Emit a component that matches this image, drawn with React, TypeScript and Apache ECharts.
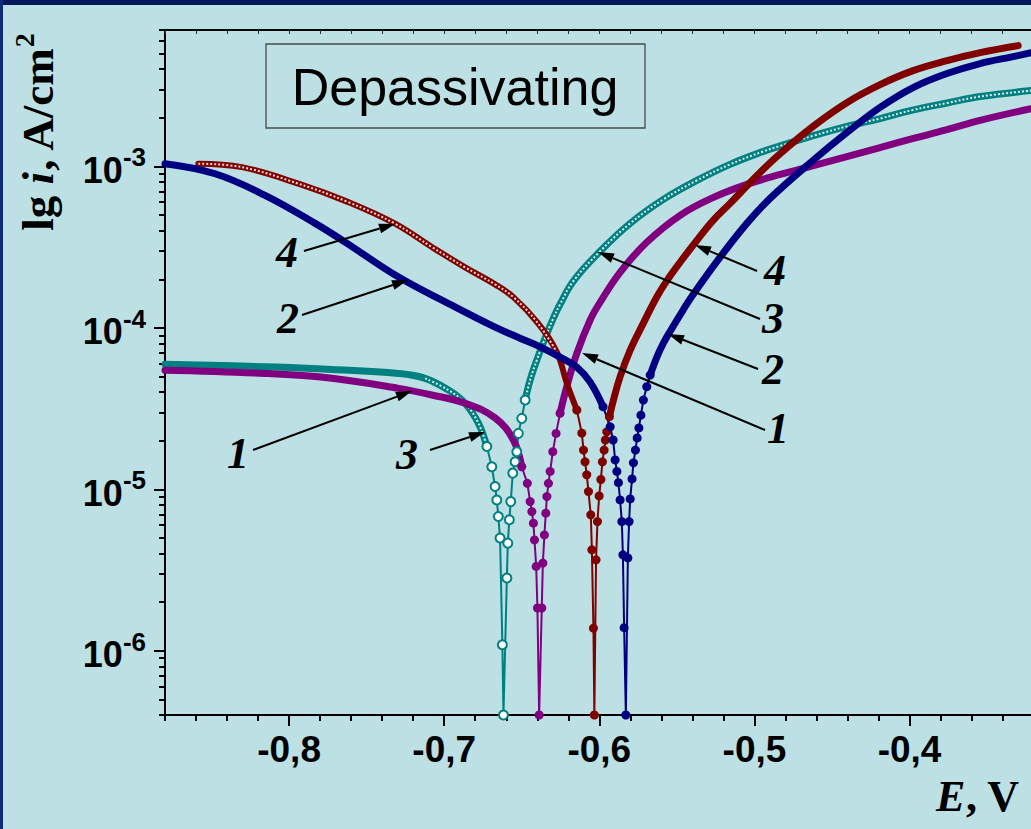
import React, { useEffect, useRef } from 'react';
import * as echarts from 'echarts';

// ---- Data (E in V, i in A/cm^2) ----
// Curve 1 (purple)
const c1E = [-0.880, -0.8155, -0.7725, -0.7295, -0.7080, -0.6865, -0.6672, -0.6554, -0.6500, -0.6464, -0.6446, -0.6435, -0.6425, -0.6418, -0.6407, -0.6399, -0.6388, -0.6371, -0.6364, -0.6354, -0.6345, -0.6338, -0.6328, -0.6317, -0.6300, -0.6279, -0.6253, -0.6210, -0.6145, -0.6059, -0.5995, -0.5866, -0.5694, -0.5479, -0.5264, -0.5049, -0.4834, -0.4620, -0.4404, -0.4190, -0.3975, -0.3759, -0.3545, -0.3216];
const c1I = [5.47e-5, 5.22e-5, 4.87e-5, 4.22e-5, 3.84e-5, 3.41e-5, 2.77e-5, 2.02e-5, 1.38e-5, 1.09e-5, 8.39e-6, 7.28e-6, 6.17e-6, 4.86e-6, 3.33e-6, 1.84e-6, 4e-7, 1.84e-6, 3.49e-6, 5.22e-6, 7.12e-6, 9.01e-6, 1.09e-5, 1.29e-5, 1.71e-5, 2.22e-5, 2.96e-5, 4.32e-5, 6.95e-5, 1.12e-4, 1.44e-4, 2.21e-4, 3.39e-4, 4.98e-4, 6.43e-4, 7.74e-4, 8.92e-4, 1.01e-3, 1.15e-3, 1.31e-3, 1.49e-3, 1.69e-3, 1.93e-3, 2.28e-3];
// Curve 2 (navy)
const c2E = [-0.880, -0.8477, -0.8155, -0.7832, -0.7639, -0.7297, -0.6975, -0.6672, -0.6511, -0.6382, -0.6253, -0.6145, -0.6059, -0.5976, -0.5930, -0.5911, -0.5898, -0.5887, -0.5877, -0.5866, -0.5855, -0.5848, -0.5840, -0.5829, -0.5816, -0.5808, -0.5801, -0.5789, -0.5780, -0.5767, -0.5756, -0.5745, -0.5732, -0.5716, -0.5694, -0.5672, -0.5629, -0.5587, -0.5543, -0.5460, -0.5393, -0.5221, -0.5049, -0.4899, -0.4622, -0.4404, -0.4190, -0.3977, -0.3759, -0.3545, -0.3332, -0.3216];
const c2I = [1.04e-3, 9.01e-4, 6.62e-4, 4.44e-4, 3.40e-4, 2.07e-4, 1.42e-4, 1.01e-4, 8.63e-5, 7.63e-5, 6.59e-5, 5.71e-5, 4.61e-5, 3.25e-5, 2.44e-5, 2.02e-5, 1.52e-5, 1.29e-5, 1.10e-5, 8.59e-6, 6.31e-6, 3.93e-6, 1.39e-6, 4e-7, 3.76e-6, 6.31e-6, 8.72e-6, 1.16e-5, 1.46e-5, 1.75e-5, 2.08e-5, 2.40e-5, 2.88e-5, 3.57e-5, 4.32e-5, 5.10e-5, 6.59e-5, 8.04e-5, 9.54e-5, 1.29e-4, 1.62e-4, 2.74e-4, 4.44e-4, 6.34e-4, 1.09e-3, 1.62e-3, 2.32e-3, 3.08e-3, 3.76e-3, 4.34e-3, 4.79e-3, 5.07e-3];
// Curve 3 (teal)
const c3E = [-0.880, -0.8155, -0.7725, -0.7295, -0.7123, -0.6973, -0.6865, -0.6779, -0.6725, -0.6693, -0.6672, -0.6661, -0.6651, -0.6640, -0.6625, -0.6618, -0.6596, -0.6590, -0.6580, -0.6571, -0.6558, -0.6543, -0.6532, -0.6522, -0.6500, -0.6478, -0.6446, -0.6403, -0.6338, -0.6296, -0.6253, -0.6167, -0.5995, -0.5801, -0.5587, -0.5371, -0.5157, -0.4942, -0.4834, -0.4620, -0.4404, -0.4190, -0.3975, -0.3759, -0.3545, -0.3216];
const c3I = [5.96e-5, 5.74e-5, 5.53e-5, 5.22e-5, 4.87e-5, 4.12e-5, 3.41e-5, 2.56e-5, 1.84e-5, 1.38e-5, 1.04e-5, 8.59e-6, 6.78e-6, 4.99e-6, 1.09e-6, 4e-7, 2.82e-6, 4.64e-6, 6.47e-6, 8.39e-6, 1.26e-5, 1.48e-5, 1.71e-5, 2.22e-5, 2.75e-5, 3.57e-5, 4.75e-5, 6.31e-5, 9.23e-5, 1.15e-4, 1.40e-4, 1.95e-4, 2.98e-4, 4.44e-4, 6.25e-4, 8.19e-4, 1.03e-3, 1.24e-3, 1.34e-3, 1.55e-3, 1.77e-3, 1.98e-3, 2.24e-3, 2.47e-3, 2.71e-3, 2.95e-3];
// Curve 4 (dark red)
const c4E = [-0.8585, -0.8305, -0.7940, -0.7618, -0.7317, -0.7080, -0.6865, -0.6672, -0.6554, -0.6400, -0.6274, -0.6210, -0.6145, -0.6113, -0.6102, -0.6092, -0.6081, -0.6070, -0.6055, -0.6048, -0.6038, -0.6032, -0.6021, -0.6012, -0.6001, -0.5990, -0.5980, -0.5969, -0.5961, -0.5952, -0.5935, -0.5909, -0.5866, -0.5801, -0.5716, -0.5627, -0.5563, -0.5479, -0.5370, -0.5266, -0.5157, -0.4983, -0.4834, -0.4622, -0.4402, -0.4190, -0.3977, -0.3758, -0.3545, -0.3300];
const c4I = [1.04e-3, 9.90e-4, 7.82e-4, 6.01e-4, 4.42e-4, 3.17e-4, 2.37e-4, 1.86e-4, 1.55e-4, 1.08e-4, 7.08e-5, 4.55e-5, 3.10e-5, 2.23e-5, 1.75e-5, 1.48e-5, 1.23e-5, 9.68e-6, 6.95e-6, 4.22e-6, 1.38e-6, 4e-7, 3.66e-6, 6.31e-6, 9.10e-6, 1.15e-5, 1.48e-5, 1.75e-5, 2.02e-5, 2.27e-5, 2.82e-5, 3.57e-5, 4.98e-5, 7.28e-5, 1.07e-4, 1.57e-4, 1.97e-4, 2.55e-4, 3.49e-4, 4.63e-4, 5.90e-4, 8.80e-4, 1.20e-3, 1.77e-3, 2.49e-3, 3.21e-3, 3.92e-3, 4.52e-3, 5.07e-3, 5.60e-3];

// Potential windows where individual data points are visible (around E_corr)
const c1Dip = [-0.6500, -0.6253];
const c2Dip = [-0.5976, -0.5672];
const c3Dip = [-0.6725, -0.6478];
const c4Dip = [-0.6145, -0.5935];
// Parts drawn as open (hollow) markers
const c3HollowFrom = -0.7123;
const c4HollowTo = -0.6274;

// Axes
const xMin = -0.88;
const xMax = -0.3217;
const yMin = 4e-7;
const yMax = 7e-3;
const xMajorTicks = [-0.8, -0.7, -0.6, -0.5, -0.4];
const xMinorTicks = [-0.88, -0.86, -0.84, -0.82, -0.80, -0.78, -0.76, -0.74, -0.72, -0.70, -0.68, -0.66, -0.64, -0.62, -0.60, -0.58, -0.56, -0.54, -0.52, -0.50, -0.48, -0.46, -0.44, -0.42, -0.40, -0.38, -0.36, -0.34, -0.32];
const yDecadeTicks = [1e-6, 1e-5, 1e-4, 1e-3];
const yMinorTicks = [
  4e-7, 5e-7, 6e-7, 7e-7, 8e-7, 9e-7,
  2e-6, 3e-6, 4e-6, 5e-6, 6e-6, 7e-6, 8e-6, 9e-6,
  2e-5, 3e-5, 4e-5, 5e-5, 6e-5, 7e-5, 8e-5, 9e-5,
  2e-4, 3e-4, 4e-4, 5e-4, 6e-4, 7e-4, 8e-4, 9e-4,
  2e-3, 3e-3, 4e-3, 5e-3, 6e-3, 7e-3,
];

const legendText = 'Depassivating';
const xTitle = ['E', ', V'];
const yTitle = ['lg ', 'i', ', A/cm', '2'];

// Curve-number annotations: label position, arrow start and arrow tip (px)
const annotations = [
  { t: '4', lx: 287, ly: 252, sx: 304, sy: 251, tx: 395, ty: 224 },
  { t: '2', lx: 288, ly: 318, sx: 302, sy: 315, tx: 408, ty: 280 },
  { t: '1', lx: 238, ly: 453, sx: 253, sy: 450, tx: 412, ty: 391 },
  { t: '3', lx: 407, ly: 454, sx: 430, sy: 450, tx: 485, ty: 432 },
  { t: '4', lx: 775, ly: 270, sx: 757, sy: 271, tx: 695, ty: 245 },
  { t: '3', lx: 773, ly: 318, sx: 760, sy: 319, tx: 598, ty: 252 },
  { t: '2', lx: 773, ly: 369, sx: 758, sy: 369, tx: 668, ty: 334 },
  { t: '1', lx: 778, ly: 428, sx: 765, sy: 430, tx: 582, ty: 353 },
];

const PURPLE = '#800080';
const NAVY = '#000080';
const TEAL = '#008080';
const RED = '#800000';
const BG = '#BCE0E3';
const SANS = "'Liberation Sans', Arial, Helvetica, sans-serif";
const SERIF = "'Liberation Serif', 'Times New Roman', Times, serif";

function seg(E: number[], I: number[], lo: number, hi: number) {
  const out: number[][] = [];
  for (let k = 0; k < E.length; k++) {
    if (E[k] >= lo - 1e-9 && E[k] <= hi + 1e-9) out.push([E[k], I[k]]);
  }
  return out;
}

function band(data: number[][], color: string, width = 7) {
  return {
    type: 'line', xAxisIndex: 0, yAxisIndex: 0, data, smooth: 0.4,
    symbol: 'none', showSymbol: false, clip: true,
    lineStyle: { color, width, cap: 'round', join: 'round' },
    z: 2,
  };
}
function hatch(data: number[][]) {
  return {
    type: 'line', xAxisIndex: 0, yAxisIndex: 0, data, smooth: 0.4,
    symbol: 'none', showSymbol: false, clip: true,
    lineStyle: { color: '#ffffff', width: 2, type: [2, 2], opacity: 0.85 },
    z: 2,
  };
}
function dip(data: number[][], color: string, hollow = false) {
  return {
    type: 'line', xAxisIndex: 0, yAxisIndex: 0, data,
    symbol: 'circle', symbolSize: 9, showSymbol: true, showAllSymbol: true, clip: true,
    lineStyle: { color, width: 2 },
    itemStyle: hollow
      ? { color: '#ffffff', borderColor: color, borderWidth: 2 }
      : { color, borderWidth: 0 },
    z: 2,
  };
}

function buildSeries() {
  const s: any[] = [];
  // Curve 3 (teal)
  s.push(band(seg(c3E, c3I, -1, c3Dip[0]), TEAL));
  s.push(hatch(seg(c3E, c3I, c3HollowFrom, c3Dip[0])));
  s.push(dip(seg(c3E, c3I, c3Dip[0], c3Dip[1]), TEAL, true));
  s.push(band(seg(c3E, c3I, c3Dip[1], 0), TEAL));
  s.push(hatch(seg(c3E, c3I, c3Dip[1], 0)));
  // Curve 1 (purple)
  s.push(band(seg(c1E, c1I, -1, c1Dip[0]), PURPLE));
  s.push(dip(seg(c1E, c1I, c1Dip[0], c1Dip[1]), PURPLE));
  s.push(band(seg(c1E, c1I, c1Dip[1], 0), PURPLE));
  // Curve 4 (red)
  s.push(band(seg(c4E, c4I, -1, c4Dip[0]), RED, 6));
  s.push(hatch(seg(c4E, c4I, -1, c4HollowTo)));
  s.push(dip(seg(c4E, c4I, c4Dip[0], c4Dip[1]), RED));
  s.push(band(seg(c4E, c4I, c4Dip[1], 0), RED));
  // Curve 2 (navy)
  s.push(band(seg(c2E, c2I, -1, c2Dip[0]), NAVY));
  s.push(dip(seg(c2E, c2I, c2Dip[0], c2Dip[1]), NAVY));
  s.push(band(seg(c2E, c2I, c2Dip[1], 0), NAVY));
  return s;
}

function buildGraphics() {
  const g: any[] = [];
  g.push({ type: 'rect', shape: { x: 0, y: 0, width: 1031, height: 5 }, style: { fill: '#03175A' }, z: 100 });
  g.push({ type: 'rect', shape: { x: 0, y: 0, width: 3, height: 829 }, style: { fill: '#0E2C72' }, z: 100 });
  // legend box
  g.push({
    type: 'rect', shape: { x: 266, y: 44, width: 379, height: 84 },
    style: { fill: 'none', stroke: '#4a4a4a', lineWidth: 1.3 }, z: 50,
  });
  g.push({
    type: 'text', x: 455, y: 87, z: 50,
    style: { text: legendText, font: `52px ${SANS}`, fill: '#000', align: 'center', verticalAlign: 'middle' },
  });
  // y title
  g.push({
    type: 'text', x: 35, y: 132, rotation: Math.PI / 2, z: 50,
    style: {
      text: `{a|${yTitle[0]}}{b|${yTitle[1]}}{a|${yTitle[2]}}{c|${yTitle[3]}}`,
      align: 'center', verticalAlign: 'middle',
      rich: {
        a: { fontFamily: SERIF, fontWeight: 'bold', fontSize: 45, fill: '#000', lineHeight: 50, verticalAlign: 'bottom' },
        b: { fontFamily: SERIF, fontWeight: 'bold', fontStyle: 'italic', fontSize: 45, fill: '#000', lineHeight: 50, verticalAlign: 'bottom' },
        c: { fontFamily: SERIF, fontWeight: 'bold', fontSize: 28, fill: '#000', lineHeight: 30, verticalAlign: 'top' },
      },
    },
  });
  // x title
  g.push({
    type: 'text', x: 1019, y: 796, z: 50,
    style: {
      text: `{b|${xTitle[0]}}{a|${xTitle[1]}}`,
      align: 'right', verticalAlign: 'middle',
      rich: {
        a: { fontFamily: SERIF, fontWeight: 'bold', fontSize: 44, fill: '#000' },
        b: { fontFamily: SERIF, fontWeight: 'bold', fontStyle: 'italic', fontSize: 44, fill: '#000' },
      },
    },
  });
  // annotations
  for (const a of annotations) {
    const dx = a.tx - a.sx, dy = a.ty - a.sy;
    const len = Math.hypot(dx, dy);
    const ux = dx / len, uy = dy / len;
    const hl = 16, hw = 5;
    const bx = a.tx - ux * hl, by = a.ty - uy * hl;
    g.push({ type: 'line', z: 60, shape: { x1: a.sx, y1: a.sy, x2: bx, y2: by }, style: { stroke: '#000', lineWidth: 2 } });
    g.push({
      type: 'polygon', z: 60,
      shape: { points: [[a.tx, a.ty], [bx - uy * hw, by + ux * hw], [bx + uy * hw, by - ux * hw]] },
      style: { fill: '#000' },
    });
    g.push({
      type: 'text', x: a.lx, y: a.ly, z: 60,
      style: { text: a.t, font: `italic bold 44px ${SERIF}`, fill: '#000', align: 'center', verticalAlign: 'middle' },
    });
  }
  return g;
}

export default function App() {
  const ref = useRef<HTMLDivElement>(null);
  useEffect(() => {
    const chart = echarts.init(ref.current!, null, { renderer: 'svg' });
    const lyMin = Math.log10(yMin);
    const lyMax = Math.log10(yMax);
    const option: any = {
      animation: false,
      backgroundColor: BG,
      grid: { left: 165, top: 30, width: 866, height: 685, containLabel: false },
      xAxis: [
        {
          type: 'value', min: xMin, max: xMax, position: 'bottom',
          axisLine: { show: true, onZero: false, lineStyle: { color: '#000', width: 2 } },
          axisTick: { show: true, customValues: xMajorTicks, length: 11, lineStyle: { color: '#000', width: 2 } },
          axisLabel: {
            show: true, customValues: xMajorTicks, margin: 16,
            formatter: (v: number) => v.toFixed(1).replace('.', ','),
            fontFamily: SANS, fontWeight: 'bold', fontSize: 37, color: '#000',
          },
          splitLine: { show: false },
        },
        {
          type: 'value', min: xMin, max: xMax, position: 'bottom', offset: 0,
          axisLine: { show: false, onZero: false },
          axisTick: { show: true, customValues: xMinorTicks, length: 6, lineStyle: { color: '#000', width: 2 } },
          axisLabel: { show: false },
          splitLine: { show: false },
        },
        {
          type: 'value', min: xMin, max: xMax, position: 'top', offset: 0,
          axisLine: { show: true, onZero: false, lineStyle: { color: '#000', width: 2 } },
          axisTick: { show: true, inside: true, customValues: xMinorTicks, length: 4, lineStyle: { color: '#333', width: 1 } },
          axisLabel: { show: false },
          splitLine: { show: false },
        },
      ],
      yAxis: [
        {
          type: 'log', logBase: 10, min: yMin, max: yMax, position: 'left',
          axisLine: { show: true, onZero: false, lineStyle: { color: '#000', width: 2 } },
          axisTick: { show: false }, axisLabel: { show: false }, splitLine: { show: false },
        },
        {
          type: 'value', min: lyMin, max: lyMax, position: 'left', offset: 0,
          axisLine: { show: false, onZero: false },
          axisTick: { show: true, customValues: yDecadeTicks.map(Math.log10), length: 11, lineStyle: { color: '#000', width: 2 } },
          axisLabel: {
            show: true, customValues: yDecadeTicks.map(Math.log10), margin: 19,
            formatter: (v: number) => `{b|10}{s|${Math.round(v)}}`,
            rich: {
              b: { fontFamily: SANS, fontWeight: 'bold', fontSize: 36, color: '#000', lineHeight: 44, verticalAlign: 'bottom' },
              s: { fontFamily: SANS, fontWeight: 'bold', fontSize: 26, color: '#000', lineHeight: 28, verticalAlign: 'top' },
            },
          },
          splitLine: { show: false },
        },
        {
          type: 'value', min: lyMin, max: lyMax, position: 'left', offset: 0,
          axisLine: { show: false, onZero: false },
          axisTick: { show: true, customValues: yMinorTicks.map(Math.log10), length: 6, lineStyle: { color: '#000', width: 2 } },
          axisLabel: { show: false },
          splitLine: { show: false },
        },
      ],
      series: buildSeries(),
      graphic: buildGraphics(),
    };
    chart.setOption(option);
    return () => chart.dispose();
  }, []);
  return (
    <div style={{ position: 'fixed', left: 0, top: 0, width: 1031, height: 829 }}>
      <div ref={ref} style={{ width: 1031, height: 829 }} />
    </div>
  );
}
